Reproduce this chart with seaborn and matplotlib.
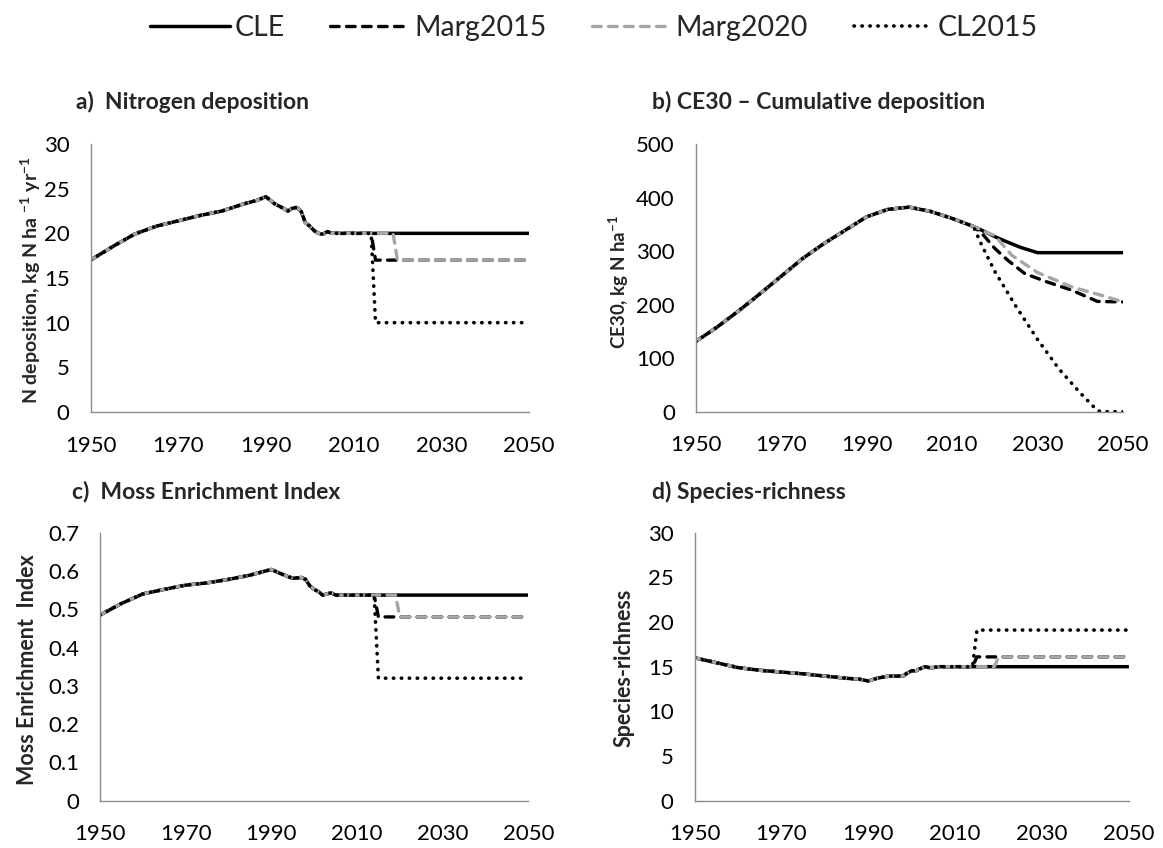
import numpy as np
import pandas as pd
import matplotlib
matplotlib.use("Agg")
import matplotlib.pyplot as plt
import seaborn as sns
from matplotlib.lines import Line2D
from matplotlib.ticker import FuncFormatter

# --- data ----------------------------------------------------------------
scenarios = ['CLE', 'Marg2015', 'Marg2020', 'CL2015']

# a) N deposition, shared history
hist_years = [1950, 1955, 1960, 1965, 1970, 1975, 1980, 1985, 1988, 1990, 1992, 1994,
              1995, 1996, 1997, 1998, 1999, 2000, 2001, 2002, 2003, 2004, 2005, 2014]
ndep_hist = [17.0, 18.5, 19.9, 20.8, 21.4, 22.0, 22.5, 23.3, 23.7, 24.1, 23.3, 22.8,
             22.5, 22.8, 22.9, 22.5, 21.2, 20.8, 20.3, 20.0, 19.9, 20.2, 20.0, 20.0]
ndep_tail_years = {'CLE': [2015, 2050], 'Marg2015': [2015, 2050],
                   'Marg2020': [2019, 2020, 2050], 'CL2015': [2015, 2050]}
ndep_tail = {'CLE': [20, 20], 'Marg2015': [17, 17],
             'Marg2020': [20, 17, 17], 'CL2015': [10, 10]}

# c) Moss Enrichment Index (same years as a)
mei_hist = [0.485, 0.515, 0.540, 0.552, 0.563, 0.569, 0.578, 0.589, 0.598, 0.604, 0.594, 0.585,
            0.581, 0.582, 0.583, 0.578, 0.561, 0.552, 0.546, 0.537, 0.540, 0.543, 0.537, 0.537]
mei_tail = {'CLE': [0.537, 0.537], 'Marg2015': [0.48, 0.48],
            'Marg2020': [0.537, 0.48, 0.48], 'CL2015': [0.32, 0.32]}

# b) CE30 cumulative deposition
ce30_hist_years = [1950, 1955, 1960, 1965, 1970, 1975, 1980, 1985, 1990, 1995, 2000, 2005, 2010, 2015]
ce30_hist = [131, 158, 188, 220, 253, 286, 314, 339, 364, 378, 382, 374, 361, 346]
ce30_tail_years = {'CLE': [2018, 2020, 2022, 2026, 2030, 2050],
                   'Marg2015': [2017, 2020, 2023, 2027, 2032, 2038, 2044, 2050],
                   'Marg2020': [2018, 2020, 2024, 2030, 2038, 2046, 2050],
                   'CL2015': [2017, 2020, 2025, 2030, 2035, 2040, 2044, 2045, 2050]}
ce30_tail = {'CLE': [335, 327, 320, 307, 297, 297],
             'Marg2015': [333, 305, 283, 258, 243, 227, 206, 205],
             'Marg2020': [335, 329, 292, 260, 233, 215, 205],
             'CL2015': [310, 262, 196, 135, 80, 35, 2, 0, 0]}

# d) Species richness
sr_hist_years = [1950, 1955, 1960, 1965, 1970, 1975, 1980, 1985, 1988, 1990, 1992, 1994,
                 1996, 1998, 1999, 2000, 2001, 2002, 2003, 2004, 2005, 2006, 2014]
sr_hist = [16.0, 15.45, 14.9, 14.6, 14.4, 14.2, 13.95, 13.7, 13.6, 13.4, 13.7, 13.9,
           13.95, 13.95, 14.3, 14.55, 14.55, 14.8, 15.0, 14.9, 14.9, 15.0, 15.0]
sr_tail = {'CLE': [15.0, 15.0], 'Marg2015': [16.1, 16.1],
           'Marg2020': [15.0, 16.1, 16.1], 'CL2015': [19.1, 19.1]}

# --- styling ---------------------------------------------------------------
sns.set_theme(style='white')
plt.rcParams['font.family'] = ['Lato', 'DejaVu Sans']
plt.rcParams['mathtext.fontset'] = 'custom'
plt.rcParams['mathtext.rm'] = 'Lato'
plt.rcParams['mathtext.bf'] = 'Lato:bold'

GRAY = '#a6a6a6'
AXIS = '#8c8c8c'
styles = {
    'CLE': dict(color='black', linestyle='-', linewidth=2.5),
    'Marg2015': dict(color='black', linestyle=(0, (2.6, 2.2)), linewidth=2.4, dash_capstyle='round'),
    'Marg2020': dict(color=GRAY, linestyle=(0, (2.6, 2.2)), linewidth=2.4, dash_capstyle='round'),
    'CL2015': dict(color='black', linestyle=(0, (0.1, 2.1)), linewidth=2.6, dash_capstyle='round'),
}


def build(hist_x, hist_y, tail_x, tail_y):
    rows = []
    for s in scenarios:
        xs = list(hist_x) + list(tail_x[s])
        ys = list(hist_y) + list(tail_y[s])
        rows.append(pd.DataFrame({'year': xs, 'value': ys, 'scenario': s}))
    return pd.concat(rows, ignore_index=True)


def style_axis(ax, ymax, ystep):
    ax.set_xlim(1950, 2050)
    ax.set_ylim(0, ymax)
    ax.set_xticks(np.arange(1950, 2051, 20))
    ax.set_yticks(np.arange(0, ymax + ystep / 2, ystep))
    ax.yaxis.set_major_formatter(FuncFormatter(lambda v, p: '{:g}'.format(round(v, 3))))
    for side in ['top', 'right']:
        ax.spines[side].set_visible(False)
    for side in ['left', 'bottom']:
        ax.spines[side].set_color(AXIS)
        ax.spines[side].set_linewidth(1.0)
    ax.tick_params(axis='both', which='major', direction='out', length=6, width=1.0,
                   color=AXIS, labelsize=16, pad=9, labelcolor='black')
    ax.tick_params(axis='x', pad=11)
    ax.set_xlabel('')
    ax.set_ylabel('')
    ax.grid(False)
    ax.patch.set_alpha(0)


fig = plt.figure(figsize=(11.63, 8.48), dpi=100)
W, H = 1163.0, 848.0


def add_axes(x0, x1, ytop, ybot):
    return fig.add_axes([x0 / W, 1 - ybot / H, (x1 - x0) / W, (ybot - ytop) / H])


ax_a = add_axes(90.5, 529, 144, 412)
ax_b = add_axes(695.7, 1123, 144, 411.7)
ax_c = add_axes(100, 528.3, 532.7, 800.7)
ax_d = add_axes(694.5, 1129, 532.7, 800.7)

panels = [
    (ax_a, build(hist_years, ndep_hist, ndep_tail_years, ndep_tail), 30, 5),
    (ax_b, build(ce30_hist_years, ce30_hist, ce30_tail_years, ce30_tail), 500, 100),
    (ax_c, build(hist_years, mei_hist, ndep_tail_years, mei_tail), 0.7, 0.1),
    (ax_d, build(sr_hist_years, sr_hist, ndep_tail_years, sr_tail), 30, 5),
]

for ax, df, ymax, ystep in panels:
    for s in scenarios:
        sub = df[df['scenario'] == s]
        sns.lineplot(data=sub, x='year', y='value', ax=ax, estimator=None, sort=False,
                     legend=False, solid_capstyle='butt', **styles[s])
    style_axis(ax, ymax, ystep)

# panel titles
tkw = dict(fontsize=16.5, fontweight='bold', va='center')
fig.text(76 / W, 1 - 101.7 / H, 'a)  Nitrogen deposition', **tkw)
fig.text(652 / W, 1 - 101.7 / H, 'b) CE30 \u2013 Cumulative deposition', **tkw)
fig.text(72 / W, 1 - 491.7 / H, 'c)  Moss Enrichment Index', **tkw)
fig.text(652 / W, 1 - 491.7 / H, 'd) Species-richness', **tkw)

# y labels
fig.text(31 / W, 1 - 280 / H, r'N deposition, kg N ha $^{\mathbf{-1}}$ yr$^{\mathbf{-1}}$',
         fontsize=14, fontweight='bold', rotation=90, ha='center', va='center')
fig.text(619 / W, 1 - 282 / H, r'CE30, kg N ha$^{\mathbf{-1}}$',
         fontsize=13.5, fontweight='bold', rotation=90, ha='center', va='center')
fig.text(28 / W, 1 - 670 / H, 'Moss Enrichment  Index',
         fontsize=15.5, fontweight='bold', rotation=90, ha='center', va='center')
fig.text(624 / W, 1 - 668 / H, 'Species-richness',
         fontsize=15.5, fontweight='bold', rotation=90, ha='center', va='center')

# legend
handles = [Line2D([], [], **styles[s]) for s in scenarios]
fig.legend(handles, scenarios, loc='center', bbox_to_anchor=(594 / W, 1 - 28 / H), ncol=4,
           frameon=False, fontsize=20.5, handlelength=2.8, handletextpad=0.15, columnspacing=1.6)

fig.savefig('out.png', dpi=100, facecolor='white')
